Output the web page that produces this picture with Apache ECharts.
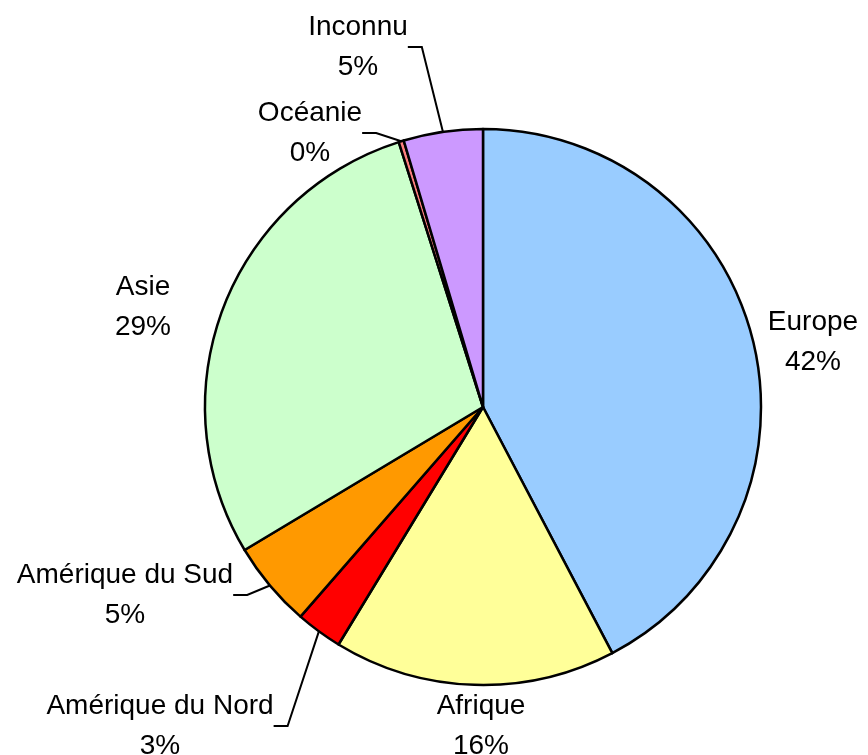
<!DOCTYPE html>
<html>
<head>
<meta charset="utf-8">
<script src="https://cdn.jsdelivr.net/npm/echarts@6/dist/echarts.min.js"></script>
<style>
  html, body { margin: 0; padding: 0; background: #fff; }
  #chart { width: 868px; height: 755px; }
</style>
</head>
<body>
<div id="chart"></div>
<script>
// regions and their share (percent), clockwise from 12 o'clock
const regions = ["Europe", "Afrique", "Amérique du Nord", "Amérique du Sud", "Asie", "Océanie", "Inconnu"];
const shares = [42.3, 16.4, 2.7, 5.0, 28.7, 0.3, 4.6];
const colors = ["#99CCFF", "#FFFF99", "#FF0000", "#FF9900", "#CCFFCC", "#FF8080", "#CC99FF"];

// where each label sits (centre of the text block) and whether it has a leader line
const labelPos = [[813, 342], [481, 726], [160, 726], [125, 595], [143, 307], [310, 133], [358, 47]];
const hasLine = [false, false, true, true, false, true, true];

const chart = echarts.init(document.getElementById("chart"));

let data = [];
for (let i = 0; i < regions.length; i++) {
  data.push({
    name: regions[i],
    value: shares[i],
    itemStyle: { color: colors[i] },
    labelLine: { show: hasLine[i] }
  });
}

const option = {
  animation: false,
  series: [
    {
      type: "pie",
      center: [483, 407],
      radius: 278,
      startAngle: 90,
      clockwise: true,
      avoidLabelOverlap: false,
      itemStyle: { borderColor: "#000", borderWidth: 2.5 },
      label: {
        show: true,
        position: "outside",
        color: "#000",
        fontFamily: "Liberation Sans, Arial, sans-serif",
        fontSize: 28,
        lineHeight: 40,
        align: "center",
        formatter: function(p) {
          return p.name + "\n" + Math.round(p.percent) + "%";
        }
      },
      labelLine: {
        show: true,
        length: 8,
        length2: 14,
        smooth: false,
        lineStyle: { color: "#000", width: 2 }
      },
      labelLayout: function(params) {
        const pos = labelPos[params.dataIndex];
        return {
          x: pos[0],
          y: pos[1],
          align: "center",
          verticalAlign: "middle"
        };
      },
      data: data
    }
  ]
};

chart.setOption(option);
window.onresize = function() {
  chart.resize();
};
</script>
</body>
</html>
